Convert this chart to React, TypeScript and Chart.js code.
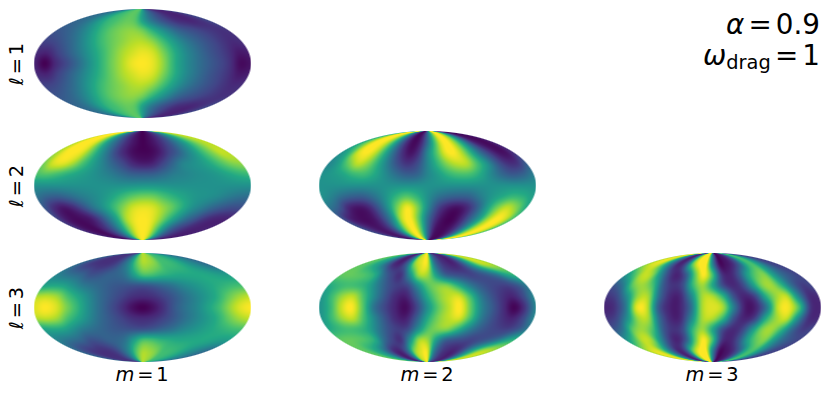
import React, { useEffect, useRef } from "react";
import { Chart, registerables } from "chart.js";

Chart.register(...registerables);

// Every row holds 21 values on meridians from -1 to 1; rows run from the north pole to the south pole.
const meridians = [-1, -0.9, -0.8, -0.7, -0.6, -0.5, -0.4, -0.3, -0.2, -0.1, 0, 0.1, 0.2, 0.3, 0.4, 0.5, 0.6, 0.7, 0.8, 0.9, 1];
const parallels = [1, 0.8, 0.6, 0.4, 0.2, 0, -0.2, -0.4, -0.6, -0.8, -1];

const l1m1 = [
  [3.5, 3.8, 4.3, 5, 5.8, 6.5, 7, 7.3, 7.4, 7, 5.5, 4, 3, 2.2, 1.6, 1.2, 1, 1, 1.2, 1.6, 2.2],
  [3.3, 3.5, 4, 4.8, 5.8, 6.6, 7, 7.4, 7.6, 7.2, 5.6, 4.2, 3.2, 2.4, 1.8, 1.3, 1.1, 1, 1.2, 1.6, 2.2],
  [2.6, 2.9, 3.4, 4.2, 5.2, 6.3, 7.2, 7.8, 8.2, 8.3, 7.8, 6.6, 5.4, 4.3, 3.3, 2.7, 2.3, 1.9, 1.6, 1.4, 1.5],
  [1.9, 2.1, 2.7, 3.5, 4.6, 5.8, 6.9, 7.7, 8.3, 8.8, 8.9, 8.3, 7, 5.6, 4.4, 3.5, 2.8, 2.2, 1.6, 1.2, 1.3],
  [1.2, 1, 1.9, 2.9, 4, 5.2, 6.4, 7.6, 8.6, 9.3, 9.7, 9.3, 7.9, 6.2, 4.8, 3.8, 2.9, 2.2, 1.5, 0.7, 0.8],
  [1, 0, 1.2, 2.2, 3.4, 4.8, 6.2, 7.6, 8.7, 9.7, 10, 9.6, 8.2, 6.2, 4.8, 3.8, 3, 2.3, 1.5, 0.3, 0.5],
  [1.2, 1, 1.9, 2.9, 4, 5.2, 6.4, 7.6, 8.6, 9.3, 9.7, 9.3, 7.9, 6.2, 4.8, 3.8, 2.9, 2.2, 1.5, 0.7, 0.8],
  [1.9, 2.1, 2.7, 3.5, 4.6, 5.8, 6.9, 7.7, 8.3, 8.8, 8.9, 8.3, 7, 5.6, 4.4, 3.5, 2.8, 2.2, 1.6, 1.2, 1.3],
  [2.6, 2.9, 3.4, 4.2, 5.2, 6.3, 7.2, 7.8, 8.2, 8.3, 7.8, 6.6, 5.4, 4.3, 3.3, 2.7, 2.3, 1.9, 1.6, 1.4, 1.5],
  [3.3, 3.5, 4, 4.8, 5.8, 6.6, 7, 7.4, 7.6, 7.2, 5.6, 4.2, 3.2, 2.4, 1.8, 1.3, 1.1, 1, 1.2, 1.6, 2.2],
  [3.5, 3.8, 4.3, 5, 5.8, 6.5, 7, 7.3, 7.4, 7, 5.5, 4, 3, 2.2, 1.6, 1.2, 1, 1, 1.2, 1.6, 2.2],
];

const l2m1 = [
  [9.5, 10, 10, 8.5, 6.5, 4.5, 3, 1.8, 0.9, 0.3, 0, 0.3, 0.8, 1.5, 2.5, 4, 5.5, 7, 8.3, 9, 9.2],
  [9, 10, 10, 9.3, 7.2, 5, 3.4, 2, 1, 0.4, 0, 0.3, 0.8, 1.6, 2.6, 3.9, 5.2, 6.7, 8, 8.8, 9],
  [8.5, 9.8, 10, 9.5, 7.7, 5.6, 3.8, 2.1, 1, 0.3, 0.1, 0.2, 0.8, 1.9, 2.9, 4.2, 5.4, 6.8, 8, 9, 9],
  [7.8, 9.3, 9.5, 8.6, 7, 5.6, 4.4, 3.2, 2.2, 1.2, 0.8, 1, 2, 3.2, 4.4, 4.9, 5.4, 6.2, 7.2, 8, 8.3],
  [7, 7.2, 6.8, 6.2, 5.7, 5.2, 4.7, 4.2, 3.6, 3.1, 3, 3.1, 3.6, 4.2, 4.5, 4.8, 5, 5.3, 5.8, 6.3, 6.6],
  [5, 5, 5, 5, 5, 5, 5, 5, 5, 5.1, 5.2, 5.2, 5.1, 5, 5, 5, 5, 5, 5, 5, 5],
  [3.8, 3.2, 3, 3.4, 4, 4.5, 5, 5.7, 6.6, 7.4, 7.8, 7.7, 7, 6.3, 5.7, 5.2, 5, 4.7, 4.2, 3.8, 3.6],
  [2.8, 1.4, 0.7, 1.2, 2.4, 3.8, 5, 6.5, 8, 9.2, 9.6, 9.4, 8.5, 7.5, 6.2, 5, 4.2, 3.4, 2.8, 2.4, 2.4],
  [2, 0.8, 0.3, 0.4, 0.8, 2, 3.8, 5.8, 8.5, 9.7, 10, 9.7, 8.5, 6.8, 5.2, 3.8, 2.8, 1.8, 1.2, 1, 1],
  [1.5, 0.7, 0.3, 0.3, 1, 2, 3.5, 5.6, 8, 9.6, 10, 9.6, 7.7, 5.4, 3.5, 2.3, 1.6, 1.1, 0.9, 0.9, 1],
  [1.2, 0.8, 0.5, 0.5, 1, 2, 3.5, 5.6, 8, 9.5, 10, 9.5, 7.7, 5.4, 3.5, 2.2, 1.5, 1, 0.8, 0.8, 1],
];

const l3m1 = [
  [3.5, 2.5, 2, 1.5, 1.5, 1.5, 2, 3, 5, 7.5, 8.8, 8.6, 8, 7, 6.6, 6.2, 5.8, 5, 4.5, 4, 3.5],
  [3.5, 2.5, 1.8, 1.5, 1.4, 1.5, 2, 3.2, 4.8, 7.2, 8.6, 8.5, 8, 7, 6.8, 6.5, 6, 5.2, 4.6, 4, 3.5],
  [4.5, 4, 3.6, 3.2, 2.5, 2.6, 3, 3.2, 3.8, 5.5, 7, 7, 6.5, 6.2, 6, 6, 6, 6, 5.8, 5.5, 5.5],
  [5.8, 6, 5.8, 5, 4.1, 3.6, 3.2, 2.8, 2.6, 2.5, 2.5, 2.8, 3.3, 3.8, 4.5, 5, 5.5, 6, 6.4, 6.8, 7],
  [8.8, 9, 8.5, 7, 5.8, 4.6, 3.5, 2.7, 2, 1.4, 1.2, 1.4, 2, 2.8, 3.7, 4.5, 5.3, 6.2, 7.5, 8.5, 9],
  [9.5, 10, 9.5, 8, 6.5, 4.9, 3.6, 2.5, 1.5, 0.5, 0, 0.5, 1.5, 2.8, 3.8, 4.6, 5.7, 6.8, 8.3, 9.5, 10],
  [8.8, 9, 8.5, 7, 5.8, 4.6, 3.5, 2.7, 2, 1.4, 1.2, 1.4, 2, 2.8, 3.7, 4.5, 5.3, 6.2, 7.5, 8.5, 9],
  [5.8, 6, 5.8, 5, 4.1, 3.6, 3.2, 2.8, 2.6, 2.5, 2.5, 2.8, 3.3, 3.8, 4.5, 5, 5.5, 6, 6.4, 6.8, 7],
  [4.5, 4, 3.6, 3.2, 2.5, 2.6, 3, 3.2, 3.8, 5.5, 7, 7, 6.5, 6.2, 6, 6, 6, 6, 5.8, 5.5, 5.5],
  [3.5, 2.5, 1.8, 1.5, 1.4, 1.5, 2, 3.2, 4.8, 7.2, 8.6, 8.5, 8, 7, 6.8, 6.5, 6, 5.2, 4.6, 4, 3.5],
  [3.5, 2.5, 2, 1.5, 1.5, 1.5, 2, 3, 5, 7.5, 8.8, 8.6, 8, 7, 6.6, 6.2, 5.8, 5, 4.5, 4, 3.5],
];

const l2m2 = [
  [6, 8, 9.8, 10, 9, 6.5, 3.5, 1.2, 0.2, 1, 3.5, 6.8, 9.5, 10, 8.5, 6, 3.2, 1.1, 0.4, 0.3, 1],
  [6, 8, 9.8, 10, 9, 6.5, 3.5, 1.2, 0.2, 1, 3.5, 6.8, 9.5, 10, 8.5, 6, 3.2, 1.1, 0.4, 0.3, 1],
  [5, 6.5, 9.3, 10, 9, 6.5, 3.8, 1.6, 0.5, 1.5, 4.5, 7.2, 9.5, 10, 8.7, 6.3, 3.8, 2, 0.7, 0.5, 1.5],
  [4.5, 5.5, 7.5, 9, 8.2, 6.3, 4.2, 2.4, 1.5, 2.3, 4.5, 6.5, 8.2, 9, 8.8, 7, 5, 2.8, 1.5, 1.5, 3],
  [5, 5.3, 5.8, 6.6, 6.8, 6, 4.8, 3.7, 3, 3.2, 4.5, 5.5, 6.5, 7, 6.9, 6, 4.6, 3.4, 2.8, 3.2, 4.2],
  [5, 5, 5, 5, 5, 5, 5, 5, 5, 5, 5, 5, 5, 5, 5, 5, 5, 5, 5, 5, 5],
  [5, 4.4, 3.5, 3, 3, 3.8, 5, 6.4, 7.3, 6.5, 5, 3.8, 3.2, 3, 3.2, 4.2, 5.2, 6, 6.6, 6.3, 5.5],
  [4, 3, 1.2, 0.6, 1, 2.6, 5, 8, 9.8, 8, 4.8, 2.2, 0.9, 0.5, 1.2, 3, 5.5, 7.8, 9, 8, 6],
  [2.5, 1, 0.4, 0.3, 0.8, 2.4, 5, 9, 10, 7.5, 3.8, 1.3, 0.2, 0.1, 1.2, 3.2, 5.5, 8.5, 10, 9.3, 7],
  [2.5, 1.5, 0.8, 0.6, 1.2, 2.8, 6, 9, 10, 7.5, 3.5, 0.8, 0.2, 0.4, 1.4, 3.5, 6.5, 9, 10, 9.3, 7],
  [2.5, 1.5, 0.8, 0.6, 1.2, 2.8, 6, 9, 10, 7.5, 3.5, 0.8, 0.2, 0.4, 1.4, 3.5, 6.5, 9, 10, 9.3, 7],
];

const l3m2 = [
  [7.5, 7.2, 6.2, 5, 3, 1.2, 1.2, 3.5, 8, 9.5, 9.5, 4.2, 2, 1.2, 1, 2, 4.2, 6.5, 8.5, 9, 8.5],
  [7.5, 7.2, 6.2, 5, 3, 1.2, 1.2, 3.5, 8, 9.5, 9.5, 4.2, 2, 1.2, 1, 2, 4.2, 6.5, 8.5, 9, 8.5],
  [7.5, 7.6, 7.4, 7, 6, 3.5, 2, 1.6, 5, 8.5, 8.5, 5.5, 3.2, 2.5, 2.2, 2, 2.4, 3, 4, 5.6, 6.5],
  [6, 6.6, 7, 6.8, 6, 4.2, 2.6, 1.8, 2.2, 4.8, 7.2, 8, 8, 6.5, 4.6, 3.2, 2.4, 2, 1.9, 2.6, 4],
  [5.2, 6.8, 8.5, 9, 7, 4.6, 2.6, 1.2, 0.9, 3, 6, 8, 9, 9.3, 7, 4.2, 2.6, 1.5, 1, 2.2, 4.5],
  [5, 6.5, 9, 10, 7.5, 4, 2.2, 1, 0.3, 2, 5, 7.5, 9, 10, 7.5, 4.5, 2.8, 1.3, 0.1, 1.6, 4.5],
  [5.2, 6.8, 8.5, 9, 7, 4.6, 2.6, 1.2, 0.9, 3, 6, 8, 9, 9.3, 7, 4.2, 2.6, 1.5, 1, 2.2, 4.5],
  [6, 6.6, 7, 6.8, 6, 4.2, 2.6, 1.8, 2.2, 4.8, 7.2, 8, 8, 6.5, 4.6, 3.2, 2.4, 2, 1.9, 2.6, 4],
  [7.5, 7.6, 7.4, 7, 6, 3.5, 2, 1.6, 5, 8.5, 8.5, 5.5, 3.2, 2.5, 2.2, 2, 2.4, 3, 4, 5.6, 6.5],
  [7.5, 7.2, 6.2, 5, 3, 1.2, 1.2, 3.5, 8, 9.5, 9.5, 4.2, 2, 1.2, 1, 2, 4.2, 6.5, 8.5, 9, 8.5],
  [7.5, 7.2, 6.2, 5, 3, 1.2, 1.2, 3.5, 8, 9.5, 9.5, 4.2, 2, 1.2, 1, 2, 4.2, 6.5, 8.5, 9, 8.5],
];

const l3m3 = [
  [8.5, 9.5, 9, 6, 3, 1, 2.5, 7.5, 10, 10, 4.5, 0.5, 0.5, 1.2, 3, 6, 7, 5.5, 3.5, 2.2, 2],
  [8.5, 9.5, 9, 6, 3, 1, 2.5, 7.5, 10, 10, 4.5, 0.5, 0.5, 1.2, 3, 6, 7, 5.5, 3.5, 2.2, 2],
  [5, 7, 9, 8.5, 5, 2, 1, 3, 7.5, 10, 7, 1.8, 1, 2.5, 5.5, 7.5, 8, 5.5, 3.5, 2.5, 2],
  [2.5, 4, 7.5, 8.5, 7, 3, 1.5, 2.3, 6.5, 8.5, 6, 2.5, 1.2, 2, 5, 8, 8.5, 6.5, 3.5, 1.8, 2],
  [1.5, 2.2, 5, 8.5, 8.5, 3.5, 1.2, 1.2, 4.5, 8.5, 8.8, 6.5, 2.5, 1, 2, 6, 8.5, 9, 5, 1.5, 1.2],
  [1, 1.5, 4, 9.5, 9, 3, 1, 1, 3.5, 8.5, 9.5, 8.5, 4, 0.8, 1, 4, 9, 9.8, 7, 1.7, 1],
  [1.5, 2.2, 5, 8.5, 8.5, 3.5, 1.2, 1.2, 4.5, 8.5, 8.8, 6.5, 2.5, 1, 2, 6, 8.5, 9, 5, 1.5, 1.2],
  [2.5, 4, 7.5, 8.5, 7, 3, 1.5, 2.3, 6.5, 8.5, 6, 2.5, 1.2, 2, 5, 8, 8.5, 6.5, 3.5, 1.8, 2],
  [5, 7, 9, 8.5, 5, 2, 1, 3, 7.5, 10, 7, 1.8, 1, 2.5, 5.5, 7.5, 8, 5.5, 3.5, 2.5, 2],
  [8.5, 9.5, 9, 6, 3, 1, 2.5, 7.5, 10, 10, 4.5, 0.5, 0.5, 1.2, 3, 6, 7, 5.5, 3.5, 2.2, 2],
  [8.5, 9.5, 9, 6, 3, 1, 2.5, 7.5, 10, 10, 4.5, 0.5, 0.5, 1.2, 3, 6, 7, 5.5, 3.5, 2.2, 2],
];

const viridisStops = [
  [68, 1, 84], [72, 36, 117], [65, 68, 135], [53, 95, 141], [42, 120, 142], [33, 145, 140],
  [34, 168, 132], [68, 191, 112], [122, 209, 81], [189, 223, 38], [253, 231, 37],
];

function viridis(v: number): number[] {
  const t = Math.max(0, Math.min(9.9999, v));
  const i = Math.floor(t);
  const f = t - i;
  return viridisStops[i].map((c, k) => c + (viridisStops[i + 1][k] - c) * f);
}

function catmull(p0: number, p1: number, p2: number, p3: number, t: number): number {
  return 0.5 * (2 * p1 + (p2 - p0) * t + (2 * p0 - 5 * p1 + 4 * p2 - p3) * t * t + (3 * p1 - p0 - 3 * p2 + p3) * t * t * t);
}

const smoothMap = {
  id: "smoothMap",
  afterDatasetsDraw(chart: any) {
    const ds = chart.data.datasets[0];
    const pts = ds.data;
    const nR = parallels.length;
    const nC = meridians.length;
    const at = (r: number, c: number) => {
      const rr = Math.max(0, Math.min(nR - 1, r));
      const cc = Math.max(0, Math.min(nC - 1, c));
      return pts[rr * nC + cc].v;
    };
    const { left, top, right, bottom } = chart.chartArea;
    const x0 = Math.floor(left);
    const y0 = Math.floor(top);
    const w = Math.ceil(right) - x0;
    const h = Math.ceil(bottom) - y0;
    const img = chart.ctx.createImageData(w, h);
    const sx = chart.scales.x;
    const sy = chart.scales.y;
    const edge = 1 / (sy.bottom - sy.top);
    for (let py = 0; py < h; py++) {
      for (let px = 0; px < w; px++) {
        const x = sx.getValueForPixel(x0 + px + 0.5);
        const y = sy.getValueForPixel(y0 + py + 0.5);
        const rad = Math.sqrt(x * x + y * y);
        if (rad > 1 + edge) continue;
        const yy = Math.min(0.9999, Math.abs(y));
        const u = Math.max(-1, Math.min(1, x / Math.sqrt(1 - yy * yy)));
        const fr = Math.max(0, Math.min(nR - 1.0001, (1 - y) * 5));
        const fc = Math.max(0, Math.min(nC - 1.0001, (u + 1) * 10));
        const r = Math.floor(fr);
        const c = Math.floor(fc);
        const tr = fr - r;
        const tc = fc - c;
        const rows = [-1, 0, 1, 2].map((d) =>
          catmull(at(r + d, c - 1), at(r + d, c), at(r + d, c + 1), at(r + d, c + 2), tc),
        );
        const v = catmull(rows[0], rows[1], rows[2], rows[3], tr);
        const col = viridis(v);
        const i = (py * w + px) * 4;
        img.data[i] = col[0];
        img.data[i + 1] = col[1];
        img.data[i + 2] = col[2];
        img.data[i + 3] = 255 * Math.max(0, Math.min(1, (1 + edge - rad) / (2 * edge)));
      }
    }
    chart.ctx.putImageData(img, x0, y0);
  },
};

function MapPanel({ values, left, top }: { values: number[][]; left: number; top: number }) {
  const ref = useRef<HTMLCanvasElement>(null);
  useEffect(() => {
    const points = values.flatMap((row, r) =>
      row.map((v, c) => ({
        x: meridians[c] * Math.sqrt(1 - parallels[r] * parallels[r]),
        y: parallels[r],
        v,
      })),
    );
    const chart = new Chart(ref.current!, {
      type: "scatter",
      data: {
        datasets: [
          {
            data: points,
            pointRadius: 1,
            pointBorderWidth: 0,
            pointBackgroundColor: (ctx: any) => {
              const c = viridis(ctx.raw.v);
              return `rgb(${c[0]},${c[1]},${c[2]})`;
            },
          },
        ],
      },
      options: {
        animation: false,
        responsive: false,
        layout: { padding: 0, autoPadding: false },
        plugins: { legend: { display: false }, tooltip: { enabled: false } },
        scales: {
          x: { type: "linear", min: -1, max: 1, display: false },
          y: { type: "linear", min: -1, max: 1, display: false },
        },
      },
      plugins: [smoothMap],
    } as any);
    return () => chart.destroy();
  }, [values]);
  return (
    <canvas
      ref={ref}
      width={217}
      height={109}
      style={{ position: "absolute", left, top, width: 217, height: 109 }}
    />
  );
}

const font = '"DejaVu Sans", sans-serif';
const rowLabels = [
  { n: 1, cy: 63.5 },
  { n: 2, cy: 185.5 },
  { n: 3, cy: 308 },
];
const colLabels = [
  { n: 1, cx: 142 },
  { n: 2, cx: 427 },
  { n: 3, cx: 712 },
];

export default function App() {
  return (
    <div style={{ position: "absolute", left: 0, top: 0, width: 830, height: 396, background: "#fff", fontFamily: font, color: "#000", overflow: "hidden" }}>
      <MapPanel values={l1m1} left={34} top={9} />
      <MapPanel values={l2m1} left={34} top={131} />
      <MapPanel values={l3m1} left={34} top={253} />
      <MapPanel values={l2m2} left={319} top={131} />
      <MapPanel values={l3m2} left={319} top={253} />
      <MapPanel values={l3m3} left={604} top={253} />
      {rowLabels.map((d) => (
        <div
          key={d.n}
          style={{ position: "absolute", left: 17, top: d.cy, fontSize: 19.4, wordSpacing: "-0.17em", lineHeight: "20px", whiteSpace: "nowrap", transform: "translate(-50%,-50%) rotate(-90deg)" }}
        >
          <i>ℓ</i> = {d.n}
        </div>
      ))}
      {colLabels.map((d) => (
        <div
          key={d.n}
          style={{ position: "absolute", left: d.cx, top: 375, fontSize: 19.4, wordSpacing: "-0.17em", lineHeight: "20px", whiteSpace: "nowrap", transform: "translate(-50%,-50%)" }}
        >
          <i>m</i> = {d.n}
        </div>
      ))}
      <div style={{ position: "absolute", right: 10, top: 9, fontSize: 27.8, wordSpacing: "-0.17em", lineHeight: "32px", whiteSpace: "nowrap" }}>
        <i>α</i> = 0.9
      </div>
      <div style={{ position: "absolute", right: 10, top: 40, fontSize: 27.8, wordSpacing: "-0.17em", lineHeight: "32px", whiteSpace: "nowrap" }}>
        <i>ω</i>
        <span style={{ fontSize: 19.4, position: "relative", top: 4 }}>drag</span> = 1
      </div>
    </div>
  );
}
